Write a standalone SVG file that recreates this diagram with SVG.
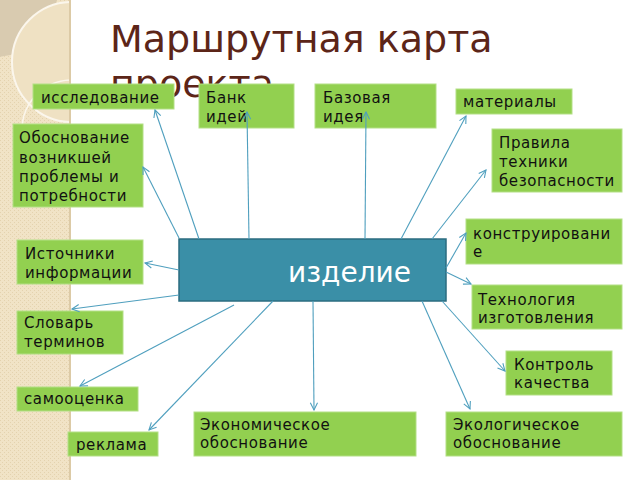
<svg xmlns="http://www.w3.org/2000/svg" width="640" height="480" viewBox="0 0 640 480">
<defs>
<pattern id="dots" width="4" height="4" patternUnits="userSpaceOnUse">
<rect width="4" height="4" fill="#f1e3c6"/>
<rect x="0" y="0" width="1" height="1" fill="#e4d2ae"/>
<rect x="2" y="2" width="1" height="1" fill="#e4d2ae"/>
</pattern>
<clipPath id="strip"><rect x="0" y="0" width="70" height="480"/></clipPath>
<marker id="arr" viewBox="0 0 10 10" refX="9" refY="5" markerWidth="9" markerHeight="9" markerUnits="userSpaceOnUse" orient="auto">
<path d="M1,1 L9,5 L1,9" fill="none" stroke="#4f9fbe" stroke-width="1.2"/>
</marker>
</defs>
<style>
.box{fill:#92d050;stroke:#b3df85;stroke-width:1}
.t{font-family:"DejaVu Sans","Liberation Sans",sans-serif;font-size:15px;letter-spacing:0.6px;fill:#111}
.c{stroke:#4f9fbe;stroke-width:1.1;fill:none;marker-end:url(#arr)}
.title{font-family:"DejaVu Sans","Liberation Sans",sans-serif;font-size:38px;fill:#5c2518}
</style>
<rect width="640" height="480" fill="#ffffff"/>
<g id="background-strip">
<rect x="0" y="0" width="70" height="480" fill="url(#dots)"/>
<g clip-path="url(#strip)">
<circle cx="-5" cy="-5" r="62" fill="#d9cbb0"/>
<circle cx="72" cy="62" r="60" fill="#efe1c3"/>
<circle cx="72" cy="62" r="60" fill="none" stroke="#fbf6ec" stroke-width="2"/>
<circle cx="72" cy="130" r="50" fill="none" stroke="#fbf6ec" stroke-width="1.5"/>
</g>
<rect x="69" y="0" width="2" height="480" fill="#dccaa6"/>
</g>
<g id="title">
<text class="title" x="110" y="52">Маршрутная карта</text>
<text class="title" x="110" y="97">проекта</text>
</g>
<g id="n-center">
<rect x="179" y="239" width="267" height="62" fill="#3a8fa7" stroke="#2b6c80" stroke-width="1.5"/>
<text x="288" y="282" font-family="DejaVu Sans,Liberation Sans,sans-serif" font-size="28" fill="#ffffff">изделие</text>
</g>
<g id="n-issledovanie">
<rect class="box" x="33" y="84" width="141" height="25"/>
<text class="t" x="41" y="103">исследование</text>
</g>
<g id="n-bank">
<rect class="box" x="199" y="84" width="95" height="44"/>
<text class="t" x="206" y="103">Банк</text>
<text class="t" x="206" y="122">идей</text>
</g>
<g id="n-bazovaya">
<rect class="box" x="315" y="84" width="121" height="44"/>
<text class="t" x="323" y="103">Базовая</text>
<text class="t" x="323" y="122">идея</text>
</g>
<g id="n-materialy">
<rect class="box" x="456" y="89" width="116" height="25"/>
<text class="t" x="463" y="107">материалы</text>
</g>
<g id="n-obosnovanie">
<rect class="box" x="13" y="124" width="130" height="83"/>
<text class="t" x="19" y="143">Обоснование</text>
<text class="t" x="19" y="163">возникшей</text>
<text class="t" x="19" y="182">проблемы и</text>
<text class="t" x="19" y="201">потребности</text>
</g>
<g id="n-pravila">
<rect class="box" x="492" y="129" width="130" height="63"/>
<text class="t" x="499" y="148">Правила</text>
<text class="t" x="499" y="167">техники</text>
<text class="t" x="499" y="186">безопасности</text>
</g>
<g id="n-konstr">
<rect class="box" x="466" y="219" width="156" height="45"/>
<text class="t" x="473" y="239">конструировани</text>
<text class="t" x="473" y="257">е</text>
</g>
<g id="n-istochniki">
<rect class="box" x="17" y="240" width="126" height="44"/>
<text class="t" x="25" y="259">Источники</text>
<text class="t" x="25" y="278">информации</text>
</g>
<g id="n-tehnologiya">
<rect class="box" x="472" y="285" width="150" height="44"/>
<text class="t" x="478" y="305">Технология</text>
<text class="t" x="478" y="323">изготовления</text>
</g>
<g id="n-slovar">
<rect class="box" x="17" y="311" width="106" height="43"/>
<text class="t" x="24" y="328">Словарь</text>
<text class="t" x="24" y="347">терминов</text>
</g>
<g id="n-kontrol">
<rect class="box" x="506" y="351" width="106" height="44"/>
<text class="t" x="514" y="370">Контроль</text>
<text class="t" x="514" y="388">качества</text>
</g>
<g id="n-samoocenka">
<rect class="box" x="17" y="387" width="121" height="24"/>
<text class="t" x="24" y="404">самооценка</text>
</g>
<g id="n-ekonom">
<rect class="box" x="194" y="412" width="222" height="44"/>
<text class="t" x="200" y="430">Экономическое</text>
<text class="t" x="200" y="448">обоснование</text>
</g>
<g id="n-ekolog">
<rect class="box" x="446" y="412" width="176" height="44"/>
<text class="t" x="453" y="430">Экологическое</text>
<text class="t" x="453" y="448">обоснование</text>
</g>
<g id="n-reklama">
<rect class="box" x="68" y="432" width="90" height="24"/>
<text class="t" x="76" y="450">реклама</text>
</g>
<g id="connectors">
<line class="c" x1="199" y1="239" x2="155" y2="110"/>
<line class="c" x1="179" y1="238" x2="143" y2="167"/>
<line class="c" x1="249" y1="239" x2="247" y2="112"/>
<line class="c" x1="365" y1="239" x2="366" y2="112"/>
<line class="c" x1="401" y1="239" x2="466" y2="116"/>
<line class="c" x1="432" y1="239" x2="486" y2="170"/>
<line class="c" x1="446" y1="268" x2="466" y2="233"/>
<line class="c" x1="446" y1="272" x2="471" y2="284"/>
<line class="c" x1="179" y1="270" x2="145" y2="263"/>
<line class="c" x1="179" y1="295" x2="72" y2="309"/>
<line class="c" x1="234" y1="305" x2="80" y2="386"/>
<line class="c" x1="273" y1="301" x2="149" y2="430"/>
<line class="c" x1="313" y1="301" x2="314" y2="410"/>
<line class="c" x1="422" y1="301" x2="470" y2="409"/>
<line class="c" x1="442" y1="301" x2="505" y2="371"/>
</g>
</svg>
